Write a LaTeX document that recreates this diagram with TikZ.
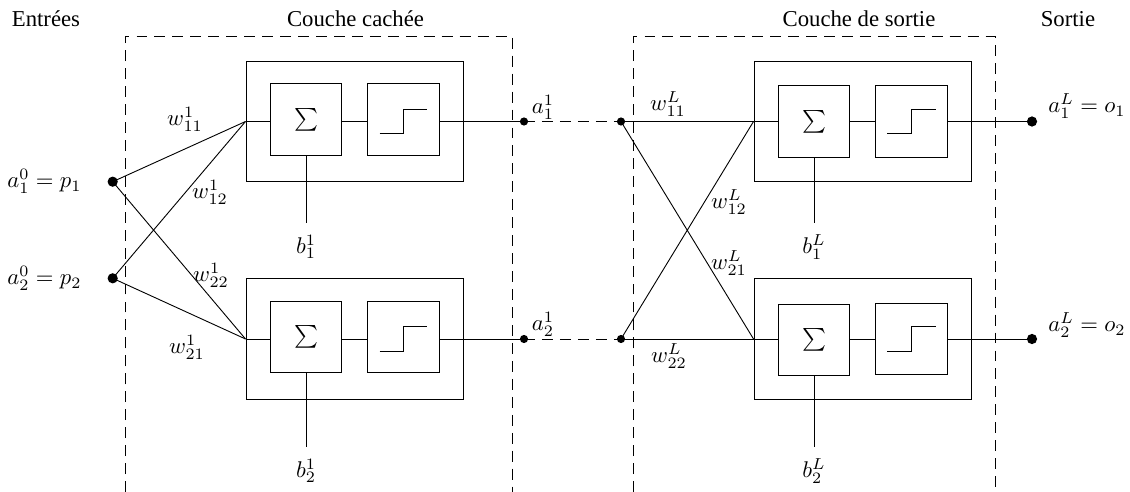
\documentclass[tikz,border=0pt]{standalone}
\usepackage[no-math]{fontspec}
\setmainfont{Liberation Serif}
\begin{document}
\begin{tikzpicture}[x=0.44pt,y=-0.44pt,
  lbl/.style={inner sep=0pt},
  hdr/.style={anchor=base, inner sep=0pt},
  outerbox/.style={draw, minimum width=95.5pt, minimum height=53.2pt, inner sep=0pt},
  unitbox/.style={draw, minimum width=31.4pt, minimum height=31.6pt, inner sep=0pt},
  bigdot/.style={circle, fill, inner sep=0pt, minimum size=4.5pt},
  smalldot/.style={circle, fill, inner sep=0pt, minimum size=3.6pt},
  layerframe/.style={dash pattern=on 4.8pt off 3.1pt},
  link/.style={dash pattern=on 4.8pt off 3.1pt},
  biaslab/.style={anchor=north, inner sep=5pt}]
\useasboundingbox (0,0) rectangle (1130,492);

% headers
\node[hdr] (hin)  at (46,26.5)   {Entrées};
\node[hdr] (hhid) at (355.5,26.5) {Couche cachée};
\node[hdr] (hout) at (859,26.5)  {Couche de sortie};
\node[hdr] (hres) at (1068,26.5) {Sortie};

% layer frames
\draw[layerframe] (125,492) -- (125,36.7) -- (512.5,36.7) -- (512.5,492);
\draw[layerframe] (633,492) -- (633,36.7) -- (995,36.7) -- (995,492);

% hidden layer neurons
\node[outerbox] (n1) at (354.5,121.5) {};
\node[unitbox] (s1) at (306,119.5) {$\sum$};
\node[unitbox] (f1) at (403.5,119.5) {};
\node[outerbox] (n2) at (354.5,339) {};
\node[unitbox] (s2) at (306,337) {$\sum$};
\node[unitbox] (f2) at (403.5,337) {};

% output layer neurons
\node[outerbox] (m1) at (862.5,121.5) {};
\node[unitbox] (t1) at (814,121.5) {$\sum$};
\node[unitbox] (g1) at (911.5,121.5) {};
\node[outerbox] (m2) at (862.5,339) {};
\node[unitbox] (t2) at (814,340) {$\sum$};
\node[unitbox] (g2) at (911.5,339) {};

% step symbols
\draw ([shift={(-24,14)}]f1.center) -- ([shift={(0,14)}]f1.center) -- ([shift={(0,-10.5)}]f1.center) -- ([shift={(23.5,-10.5)}]f1.center);
\draw ([shift={(-24,14)}]f2.center) -- ([shift={(0,14)}]f2.center) -- ([shift={(0,-10.5)}]f2.center) -- ([shift={(23.5,-10.5)}]f2.center);
\draw ([shift={(-24.5,12)}]g1.center) -- ([shift={(0,12)}]g1.center) -- ([shift={(0,-12.5)}]g1.center) -- ([shift={(24,-12.5)}]g1.center);
\draw ([shift={(-24.5,12)}]g2.center) -- ([shift={(0,12)}]g2.center) -- ([shift={(0,-12.5)}]g2.center) -- ([shift={(24,-12.5)}]g2.center);

% dots
\node[bigdot] (p1) at (112.7,181.7) {};
\node[bigdot] (p2) at (112.7,278.3) {};
\node[smalldot] (h1) at (524,121.5) {};
\node[smalldot] (h2) at (524,339) {};
\node[smalldot] (r1) at (621,121.5) {};
\node[smalldot] (r2) at (621,339) {};
\node[bigdot] (o1) at (1032,121.5) {};
\node[bigdot] (o2) at (1032,339) {};

% inputs to hidden layer
\draw (p1.center) -- (n1.west);
\draw (p1.center) -- (n2.west);
\draw (p2.center) -- (n1.west);
\draw (p2.center) -- (n2.west);
\draw (n1.west) -- (n1.west -| s1.west);
\draw (n2.west) -- (n2.west -| s2.west);
\draw (s1.east |- n1.west) -- (f1.west |- n1.west);
\draw (s2.east |- n2.west) -- (f2.west |- n2.west);
\draw (f1.east |- n1.west) -- (h1.center);
\draw (f2.east |- n2.west) -- (h2.center);

% links between layers
\draw[link] (h1.center) -- (r1.center);
\draw[link] (h2.center) -- (r2.center);

% output layer
\draw (r1.center) -- (m1.west);
\draw (r1.center) -- (m2.west);
\draw (r2.center) -- (m1.west);
\draw (r2.center) -- (m2.west);
\draw (m1.west) -- (m1.west -| t1.west);
\draw (m2.west) -- (m2.west -| t2.west);
\draw (t1.east |- m1.west) -- (g1.west |- m1.west);
\draw (t2.east |- m2.west) -- (g2.west |- m2.west);
\draw (g1.east |- m1.west) -- (o1.center);
\draw (g2.east |- m2.west) -- (o2.center);

% biases
\node[biaslab] (b1) at (306,223) {$b^1_1$};
\node[biaslab] (b2) at (306,447) {$b^1_2$};
\node[biaslab] (bL1) at (814,223) {$b^L_1$};
\node[biaslab] (bL2) at (814,447) {$b^L_2$};
\draw (s1.south) -- (b1.north);
\draw (s2.south) -- (b2.north);
\draw (t1.south) -- (bL1.north);
\draw (t2.south) -- (bL2.north);

% labels
\node[lbl] (lp1) at (44.5,181.5) {$a^0_1 = p_1$};
\node[lbl] (lp2) at (44.5,278.5) {$a^0_2 = p_2$};
\node[lbl] (w111) at (185,119) {$w^1_{11}$};
\node[lbl] (w112) at (210,192) {$w^1_{12}$};
\node[lbl] (w122) at (211,275) {$w^1_{22}$};
\node[lbl] (w121) at (187,347) {$w^1_{21}$};
\node[lbl] (la1) at (543,107) {$a^1_1$};
\node[lbl] (la2) at (543,324) {$a^1_2$};
\node[lbl] (wL11) at (668,104) {$w^L_{11}$};
\node[lbl] (wL12) at (729,202) {$w^L_{12}$};
\node[lbl] (wL21) at (729,263) {$w^L_{21}$};
\node[lbl] (wL22) at (669,356) {$w^L_{22}$};
\node[lbl, anchor=west] (lo1) at (1048,106) {$a^L_1 = o_1$};
\node[lbl, anchor=west] (lo2) at (1048,325) {$a^L_2 = o_2$};
\end{tikzpicture}
\end{document}
